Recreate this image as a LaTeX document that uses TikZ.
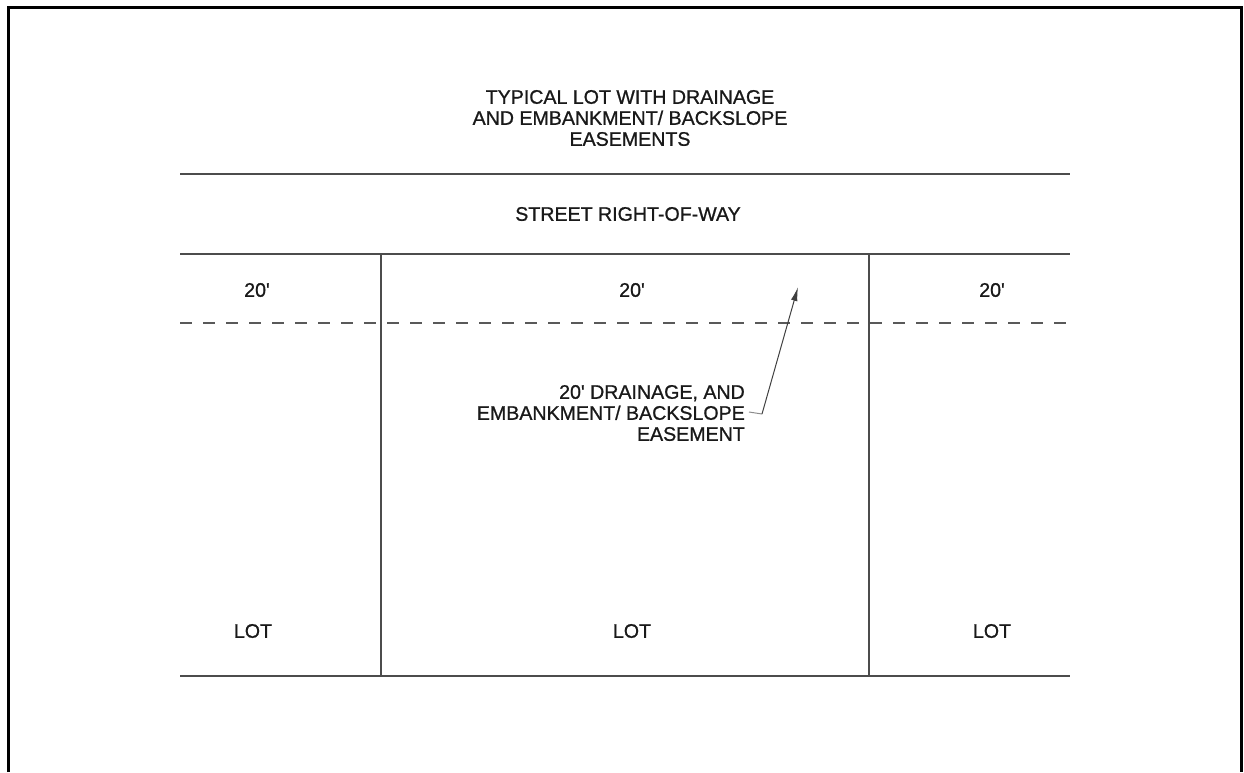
\documentclass[tikz,border=0pt]{standalone}
\usepackage{fontspec}
\newfontfamily\cadfont{Liberation Sans}[FakeBold=0.9]
\usetikzlibrary{arrows.meta}
\newcommand{\ft}{\char39\relax}
\begin{document}
\begin{tikzpicture}[x=1pt,y=-1pt,
  lbl/.style={font=\cadfont\fontsize{19.6}{21}\selectfont, text=black!90, inner sep=0pt},
  thin/.style={draw=black!70, line width=1.2pt},
  easedash/.style={draw=black!65, line width=1.2pt, dash pattern=on 12pt off 11pt},
  frame/.style={draw=black, line width=3pt},
  leader/.style={draw=black!75, line width=1pt}]
\useasboundingbox (0,0) rectangle (1244,772);
% frame (open at bottom)
\draw[frame] (8.5,772) -- (8.5,7) -- (1241.5,7) -- (1241.5,772);
% title
\node[lbl, align=center] (title) at (630,118) {TYPICAL LOT WITH DRAINAGE\\AND EMBANKMENT/ BACKSLOPE\\EASEMENTS};
% street lines
\coordinate (tl) at (180,174); \coordinate (tr) at (1070,174);
\coordinate (ml) at (180,254); \coordinate (mr) at (1070,254);
\coordinate (bl) at (180,676); \coordinate (br) at (1070,676);
\coordinate (dl) at (180,323); \coordinate (dr) at (1070,323);
\coordinate (v1t) at (381,254); \coordinate (v1b) at (381,676);
\coordinate (v2t) at (869,254); \coordinate (v2b) at (869,676);
\draw[thin] (tl) -- (tr);
\draw[thin] (ml) -- (mr);
\draw[thin] (bl) -- (br);
\draw[thin] (v1t) -- (v1b);
\draw[thin] (v2t) -- (v2b);
\draw[easedash] (dl) -- (dr);
\node[lbl] (street) at (628,214) {STREET RIGHT-OF-WAY};
% 20' labels
\node[lbl] (w1) at (257,290) {20\ft};
\node[lbl] (w2) at (632,290) {20\ft};
\node[lbl] (w3) at (992,290) {20\ft};
% LOT labels
\node[lbl] (lot1) at (253,631) {LOT};
\node[lbl] (lot2) at (632,631) {LOT};
\node[lbl] (lot3) at (992,631) {LOT};
% easement callout
\node[lbl, align=right, anchor=east] (ease) at (745,413) {20\ft\ DRAINAGE, AND\\EMBANKMENT/ BACKSLOPE\\EASEMENT};
\coordinate (elbow) at (762,414);
\coordinate (tip) at (798,287);
\draw[leader, draw=black!45] ([xshift=4pt,yshift=1pt]ease.east) -- (elbow);
\draw[leader, -{Latex[length=14pt,width=6.5pt]}] (elbow) -- (tip);
\end{tikzpicture}
\end{document}
